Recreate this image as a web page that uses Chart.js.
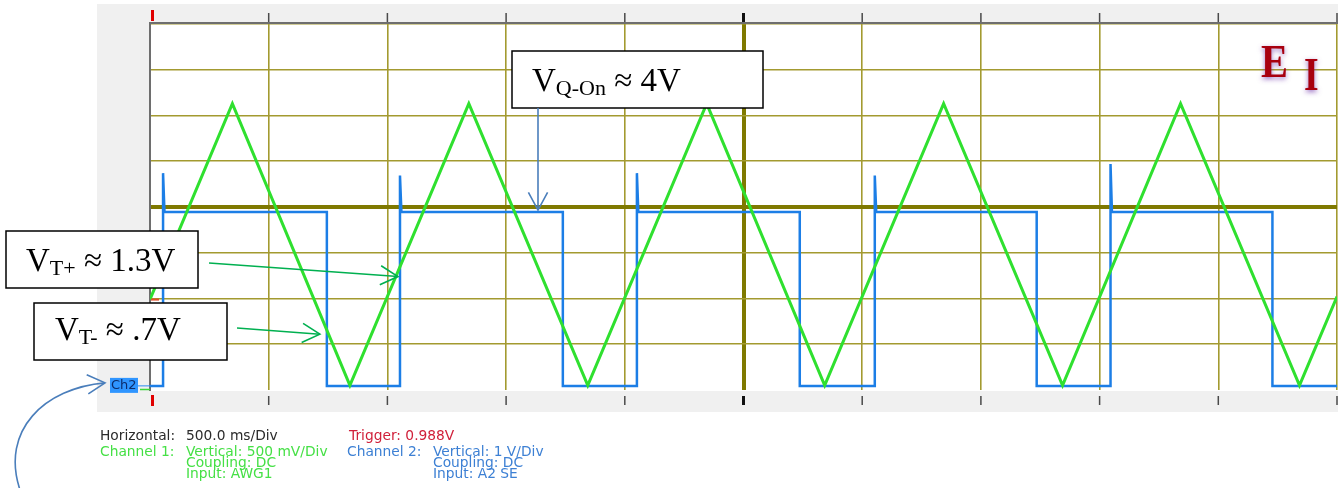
<!DOCTYPE html>
<html>
<head>
<meta charset="utf-8">
<title>Schmitt trigger - scope capture</title>
<script src="https://cdn.jsdelivr.net/npm/chart.js@4.4.1/dist/chart.umd.min.js"></script>
<style>
    body { margin: 0; background: #ffffff; }
    #wrap { position: relative; width: 1338px; height: 488px; }
</style>
</head>
<body>
<div id="wrap"><canvas id="scopeChart"></canvas></div>
<script>
// horizontal: 500 ms/div, 10 divisions
const timeTicks = [0, 0.5, 1, 1.5, 2, 2.5, 3, 3.5, 4, 4.5, 5];

// channel 1: AWG1 triangle, corners only (s / V)
const ch1Time = [0, 0.347, 0.842, 1.343, 1.844, 2.345, 2.842, 3.343, 3.844, 4.341, 4.842, 5];
const ch1Volts = [0.99, 3.13, 0.05, 3.13, 0.05, 3.13, 0.05, 3.13, 0.05, 3.13, 0.05, 1.02];

// channel 2: comparator output edges (s) and levels (V)
const ch2Rise = [0.055, 1.053, 2.051, 3.053, 4.046];
const ch2Fall = [0.745, 1.739, 2.737, 3.735, 4.728];
const ch2Spike = [4.65, 4.6, 4.65, 4.6, 4.85];
const ch2High = 3.8;
const ch2Low = 0;

const triggerLevel = 0.988;
const arrowLevels = [1.24, 0.61];

const callouts = [
    { x: 512, y: 51, w: 251, h: 57, main: 'V', sub: 'Q-On', rest: ' \u2248 4V', tx: 532, base: 91 },
    { x: 6, y: 231, w: 192, h: 57, main: 'V', sub: 'T+', rest: ' \u2248 1.3V', tx: 26, base: 271 },
    { x: 34, y: 303, w: 193, h: 57, main: 'V', sub: 'T-', rest: ' \u2248 .7V', tx: 55, base: 340 }
];

const infoRows = [
    { x: 100, y: 440, text: 'Horizontal:', color: '#2b2b2b' },
    { x: 186, y: 440, text: '500.0 ms/Div', color: '#2b2b2b' },
    { x: 349, y: 440, text: 'Trigger: 0.988V', color: '#d0203a' },
    { x: 100, y: 456, text: 'Channel 1:', color: '#45e045' },
    { x: 186, y: 456, text: 'Vertical: 500 mV/Div', color: '#45e045' },
    { x: 186, y: 467, text: 'Coupling: DC', color: '#45e045' },
    { x: 186, y: 478, text: 'Input: AWG1', color: '#45e045' },
    { x: 347, y: 456, text: 'Channel 2:', color: '#3d80d4' },
    { x: 433, y: 456, text: 'Vertical: 1 V/Div', color: '#3d80d4' },
    { x: 433, y: 467, text: 'Coupling: DC', color: '#3d80d4' },
    { x: 433, y: 478, text: 'Input: A2 SE', color: '#3d80d4' }
];

function ch2Points() {
    const pts = [{ x: 0, y: ch2Low }];
    for (let i = 0; i < ch2Rise.length; i++) {
        pts.push({ x: ch2Rise[i], y: ch2Low });
        pts.push({ x: ch2Rise[i], y: ch2Spike[i] });
        pts.push({ x: ch2Rise[i] + 0.006, y: ch2High });
        pts.push({ x: ch2Fall[i], y: ch2High });
        pts.push({ x: ch2Fall[i], y: ch2Low });
    }
    pts.push({ x: 5, y: ch2Low });
    return pts;
}

const centerValue = { x: 2.5, y: 2 };

function gridColor(ctx) {
    const v = ctx.tick.value;
    if (v === centerValue[ctx.scale.id]) return '#7f7900';
    if (ctx.scale.id === 'y' && v === 0) return 'rgba(0,0,0,0)';
    return '#a39a30';
}

function gridWidth(ctx) {
    return ctx.tick.value === centerValue[ctx.scale.id] ? 4 : 1.6;
}

function arrowHead(ctx, x, y, ang, len) {
    ctx.beginPath();
    ctx.moveTo(x - len * Math.cos(ang - 0.5), y - len * Math.sin(ang - 0.5));
    ctx.lineTo(x, y);
    ctx.lineTo(x - len * Math.cos(ang + 0.5), y - len * Math.sin(ang + 0.5));
    ctx.stroke();
}

function arrow(ctx, x0, y0, x1, y1, color) {
    ctx.strokeStyle = color;
    ctx.lineWidth = 1.6;
    ctx.beginPath();
    ctx.moveTo(x0, y0);
    ctx.lineTo(x1, y1);
    ctx.stroke();
    arrowHead(ctx, x1, y1, Math.atan2(y1 - y0, x1 - x0), 20);
}

function drawCallout(ctx, c) {
    ctx.fillStyle = '#ffffff';
    ctx.fillRect(c.x, c.y, c.w, c.h);
    ctx.strokeStyle = '#000000';
    ctx.lineWidth = 1.5;
    ctx.strokeRect(c.x, c.y, c.w, c.h);
    ctx.fillStyle = '#000000';
    ctx.textBaseline = 'alphabetic';
    ctx.font = '33px "Liberation Serif"';
    ctx.fillText(c.main, c.tx, c.base);
    let x = c.tx + ctx.measureText(c.main).width;
    ctx.font = '22px "Liberation Serif"';
    ctx.fillText(c.sub, x, c.base + 4);
    x += ctx.measureText(c.sub).width;
    ctx.font = '33px "Liberation Serif"';
    ctx.fillText(c.rest, x, c.base);
}

const scopeFrame = {
    id: 'scopeFrame',
    beforeDraw(chart) {
        const { ctx, chartArea: a } = chart;
        ctx.save();
        ctx.fillStyle = '#ffffff';
        ctx.fillRect(0, 0, chart.width, chart.height);
        ctx.fillStyle = '#f0f0f0';
        ctx.fillRect(97, 4, chart.width - 97, 408);
        ctx.fillStyle = '#ffffff';
        ctx.fillRect(a.left, a.top - 1, chart.width - a.left, a.bottom - a.top + 2);
        ctx.restore();
    },
    beforeDatasetsDraw(chart) {
        const { ctx, chartArea: a } = chart;
        const xs = chart.scales.x;
        ctx.save();
        // plot border, left and top
        ctx.strokeStyle = '#6e6e6e';
        ctx.lineWidth = 2;
        ctx.beginPath();
        ctx.moveTo(a.left, a.bottom + 1);
        ctx.lineTo(a.left, a.top - 1);
        ctx.lineTo(chart.width, a.top - 1);
        ctx.stroke();
        // division ticks in the top and bottom bands
        timeTicks.forEach(v => {
            const px = xs.getPixelForValue(v);
            if (v === 0) {
                ctx.fillStyle = '#e00000';
                ctx.fillRect(px + 1, 10, 3, 11);
                ctx.fillRect(px + 1, 395, 3, 11);
            } else if (v === centerValue.x) {
                ctx.fillStyle = '#111111';
                ctx.fillRect(px - 1.5, 13, 3, 9);
                ctx.fillRect(px - 1.5, 396, 3, 9);
            } else {
                ctx.fillStyle = '#4a4a4a';
                ctx.fillRect(px - 0.75, 13, 1.5, 9);
                ctx.fillRect(px - 0.75, 396, 1.5, 9);
            }
        });
        ctx.restore();
    },
    afterDraw(chart) {
        const { ctx } = chart;
        const xs = chart.scales.x, ys = chart.scales.y, y2 = chart.scales.y2;
        ctx.save();

        // channel zero and trigger markers on the left edge
        ctx.lineWidth = 1.5;
        ctx.strokeStyle = '#3ad83a';
        ctx.beginPath();
        ctx.moveTo(140, ys.getPixelForValue(0) - 0.5);
        ctx.lineTo(150, ys.getPixelForValue(0) - 0.5);
        ctx.stroke();
        ctx.strokeStyle = '#e0502a';
        ctx.lineWidth = 2;
        ctx.beginPath();
        ctx.moveTo(151, ys.getPixelForValue(triggerLevel));
        ctx.lineTo(159, ys.getPixelForValue(triggerLevel));
        ctx.stroke();

        const ch2Zero = y2.getPixelForValue(0);
        ctx.strokeStyle = '#2a8cf0';
        ctx.lineWidth = 1;
        ctx.beginPath();
        ctx.moveTo(137, ch2Zero);
        ctx.lineTo(150, ch2Zero);
        ctx.stroke();
        ctx.fillStyle = '#2f95ff';
        ctx.fillRect(110, ch2Zero - 8, 28, 15);
        ctx.fillStyle = '#0b2c6b';
        ctx.font = '13px "DejaVu Sans"';
        ctx.textBaseline = 'middle';
        ctx.fillText('Ch2', 111, ch2Zero);

        // E I mark
        ctx.fillStyle = '#a8000f';
        ctx.shadowColor = 'rgba(110, 50, 170, 0.7)';
        ctx.shadowBlur = 5;
        ctx.shadowOffsetY = 2;
        ctx.textBaseline = 'alphabetic';
        ctx.font = 'bold 47px "Liberation Serif"';
        ctx.save();
        ctx.translate(1261, 77);
        ctx.scale(0.86, 1);
        ctx.fillText('E', 0, 0);
        ctx.restore();
        ctx.save();
        ctx.translate(1304, 90);
        ctx.scale(0.8, 1);
        ctx.fillText('I', 0, 0);
        ctx.restore();
        ctx.shadowColor = 'rgba(0,0,0,0)';
        ctx.shadowBlur = 0;
        ctx.shadowOffsetY = 0;

        // callout boxes and arrows
        callouts.forEach(c => drawCallout(ctx, c));
        arrow(ctx, 538, 108, 538, y2.getPixelForValue(ch2High) - 2, '#4a7ebb');
        arrow(ctx, 209, 263, xs.getPixelForValue(ch2Rise[1]) - 2, ys.getPixelForValue(arrowLevels[0]), '#00b050');
        arrow(ctx, 237, 328, xs.getPixelForValue(ch2Fall[0]) - 7, ys.getPixelForValue(arrowLevels[1]), '#00b050');

        // curved pointer to the Ch2 marker
        ctx.strokeStyle = '#4a7ebb';
        ctx.lineWidth = 1.6;
        ctx.beginPath();
        ctx.moveTo(20, 490);
        ctx.bezierCurveTo(0, 430, 45, 388, 105, ch2Zero - 3);
        ctx.stroke();
        arrowHead(ctx, 105, ch2Zero - 3, Math.atan2(ch2Zero - 3 - 388, 105 - 45), 20);

        // settings read-out
        ctx.font = '13.8px "DejaVu Sans"';
        infoRows.forEach(r => {
            ctx.fillStyle = r.color;
            ctx.fillText(r.text, r.x, r.y);
        });
        ctx.restore();
    }
};

const config = {
    type: 'line',
    data: {
        datasets: [{
            label: 'Channel 1',
            data: ch1Time.map((t, i) => ({ x: t, y: ch1Volts[i] })),
            borderColor: '#2fe02f',
            borderWidth: 3,
            yAxisID: 'y',
            pointRadius: 0,
            tension: 0
        }, {
            label: 'Channel 2',
            data: ch2Points(),
            borderColor: '#1c7ee6',
            borderWidth: 2.5,
            yAxisID: 'y2',
            pointRadius: 0,
            tension: 0
        }]
    },
    options: {
        responsive: true,
        maintainAspectRatio: false,
        animation: false,
        layout: { padding: { left: 150, top: 24, right: 1, bottom: 98 } },
        plugins: {
            legend: { display: false },
            tooltip: { enabled: false }
        },
        scales: {
            x: {
                type: 'linear',
                min: 0,
                max: 5,
                afterBuildTicks: scale => { scale.ticks = timeTicks.map(v => ({ value: v })); },
                ticks: { display: false },
                border: { display: false },
                grid: { drawTicks: false, color: gridColor, lineWidth: gridWidth }
            },
            y: {
                min: 0,
                max: 4,
                ticks: { display: false, stepSize: 0.5 },
                border: { display: false },
                grid: { drawTicks: false, color: gridColor, lineWidth: gridWidth }
            },
            y2: {
                display: false,
                min: -0.09,
                max: 7.91
            }
        }
    },
    plugins: [scopeFrame]
};

const scopeChart = new Chart(document.getElementById('scopeChart'), config);
</script>
</body>
</html>
